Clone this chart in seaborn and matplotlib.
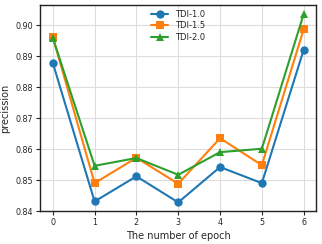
import pandas as pd
import matplotlib.pyplot as plt
import seaborn as sns

epochs = [0, 1, 2, 3, 4, 5, 6]
tdi_10 = [0.8878, 0.8431, 0.8512, 0.8428, 0.8542, 0.8490, 0.8920]
tdi_15 = [0.8961, 0.8490, 0.8572, 0.8488, 0.8635, 0.8548, 0.8986]
tdi_20 = [0.8959, 0.8546, 0.8571, 0.8517, 0.8590, 0.8601, 0.9035]
series_names = ["TDI-1.0", "TDI-1.5", "TDI-2.0"]

df = pd.DataFrame({
    "epoch": epochs * 3,
    "precission": tdi_10 + tdi_15 + tdi_20,
    "series": [n for n in series_names for _ in epochs],
})

sns.set_style("ticks")
plt.rcParams["font.family"] = ["DejaVu Sans"]

fig, ax = plt.subplots(figsize=(3.22, 2.44), dpi=100)
ax.grid(True, color="#dddddd", linewidth=0.8)
ax.set_axisbelow(True)

sns.lineplot(data=df, x="epoch", y="precission", hue="series", style="series",
             markers=["o", "s", "^"], dashes=False, markersize=6, linewidth=1.5,
             markeredgewidth=0, palette=["#1f77b4", "#ff7f0e", "#2ca02c"], ax=ax)

ax.set_xticks(epochs)
ax.set_ylim(0.84, 0.9065)
ax.set_yticks([0.84, 0.85, 0.86, 0.87, 0.88, 0.89, 0.90])
ax.set_yticklabels([f"{v:.2f}" for v in [0.84, 0.85, 0.86, 0.87, 0.88, 0.89, 0.90]])
ax.tick_params(labelsize=5.8, length=3, width=0.8, pad=2)
ax.set_xlabel("The number of epoch", fontsize=7, labelpad=3)
ax.set_ylabel("precission", fontsize=7, labelpad=4)
for s in ax.spines.values():
    s.set_linewidth(1.0)
    s.set_color("#222222")

ax.legend(loc="upper center", frameon=False, fontsize=6, title=None,
          handlelength=2.0, borderaxespad=0.2, labelspacing=0.3)

fig.subplots_adjust(left=0.125, right=0.982, top=0.98, bottom=0.135)
fig.savefig("out.png", dpi=100)
